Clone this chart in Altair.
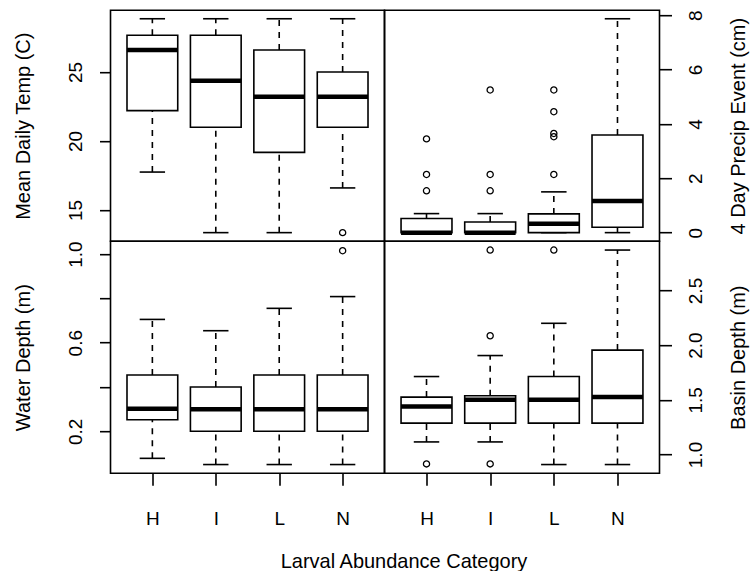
import altair as alt
import pandas as pd

categories = ["H", "I", "L", "N"]

# Mean Daily Temp (C)
temp_low = [17.75, 13.36, 13.36, 16.6]
temp_q1 = [22.2, 21.0, 19.18, 21.0]
temp_med = [26.6, 24.37, 23.2, 23.2]
temp_q3 = [27.66, 27.66, 26.6, 25.0]
temp_high = [28.86, 28.86, 28.86, 28.86]
temp_out_cat = ["N"]
temp_out_val = [13.36]

# 4 Day Precip Event (cm)
precip_low = [0.0, 0.0, 0.0, 0.0]
precip_q1 = [0.0, 0.0, 0.0, 0.2]
precip_med = [0.0, 0.0, 0.33, 1.16]
precip_q3 = [0.52, 0.39, 0.69, 3.59]
precip_high = [0.70, 0.70, 1.50, 7.87]
precip_out_cat = ["H", "H", "H", "I", "I", "I", "L", "L", "L", "L", "L"]
precip_out_val = [1.54, 2.14, 3.45, 1.54, 2.14, 5.25, 2.14, 3.53, 3.65, 4.45, 5.25]

# Water Depth (m)
water_low = [0.078, 0.05, 0.05, 0.05]
water_q1 = [0.252, 0.2, 0.2, 0.2]
water_med = [0.302, 0.30, 0.30, 0.30]
water_q3 = [0.454, 0.40, 0.454, 0.454]
water_high = [0.705, 0.654, 0.755, 0.808]
water_out_cat = ["N"]
water_out_val = [1.015]

# Basin Depth (m)
basin_low = [1.115, 1.115, 0.908, 0.908]
basin_q1 = [1.287, 1.287, 1.287, 1.287]
basin_med = [1.439, 1.50, 1.50, 1.527]
basin_q3 = [1.525, 1.537, 1.713, 1.955]
basin_high = [1.713, 1.905, 2.20, 2.87]
basin_out_cat = ["H", "I", "I", "I", "L"]
basin_out_val = [0.914, 0.914, 2.086, 2.87, 2.87]

FONT = "Liberation Sans"
LW = 1.6
LABEL_SIZE = 19
TITLE_SIZE = 20


def make_panel(low, q1, med, q3, high, out_cat, out_val, domain, yticks, fmt,
               ytitle, side, show_x, width, height, xtitle=None, hidden=()):
    box_df = pd.DataFrame({
        "cat": categories,
        "pos": list(range(1, len(categories) + 1)),
        "low": low, "q1": q1, "med": med, "q3": q3, "high": high,
    })
    out_df = pd.DataFrame({
        "cat": out_cat,
        "pos": [categories.index(c) + 1 for c in out_cat],
        "val": out_val,
    })

    cond = " || ".join(f"abs(datum.value - {h}) < 1e-9" for h in hidden)
    if cond:
        lab_expr = f"({cond}) ? '' : format(datum.value, '{fmt}')"
    else:
        lab_expr = f"format(datum.value, '{fmt}')"

    common_y = dict(
        values=yticks, labelExpr=lab_expr, domain=False, grid=False,
        tickColor="black", tickWidth=LW, labelAngle=270, labelAlign="center",
        labelBaseline="alphabetic", labelFont=FONT, labelFontSize=LABEL_SIZE,
        labelColor="black", labelOverlap=False, labelFlush=False,
        title=ytitle, titleFont=FONT, titleFontSize=TITLE_SIZE,
        titleFontWeight="normal", titleColor="black", titleAngle=270,
        titleAlign="center", titleBaseline="alphabetic", titleY=height / 2,
    )
    if side == "left":
        yaxis = alt.Axis(orient="left", tickSize=11, labelPadding=18,
                         titleX=-81.5, **common_y)
    else:
        yaxis = alt.Axis(orient="right", tickSize=12, labelPadding=30,
                         titleX=85, **common_y)

    if show_x:
        xkw = dict(
            values=list(range(1, len(categories) + 1)),
            labelExpr=f"{categories}[datum.value - 1]",
            domain=False, grid=False, tickColor="black", tickWidth=LW,
            tickSize=12, labelPadding=39, labelBaseline="alphabetic",
            labelAlign="center", labelFont=FONT, labelFontSize=LABEL_SIZE,
            labelColor="black", labelOverlap=False, labelFlush=False,
        )
        if xtitle:
            xaxis = alt.Axis(title=xtitle, titleFont=FONT, titleFontSize=TITLE_SIZE,
                             titleFontWeight="normal", titleColor="black",
                             titleAlign="center", titleBaseline="alphabetic",
                             titleX=293, titleY=94.5, **xkw)
        else:
            xaxis = alt.Axis(title="", **xkw)
    else:
        xaxis = None

    xs = alt.Scale(domain=[0.34, 4.66], nice=False, zero=False)
    ys = alt.Scale(domain=domain, nice=False, zero=False)

    def X(f):
        return alt.X(f, type="quantitative", scale=xs, axis=xaxis)

    def Y(f):
        return alt.Y(f, type="quantitative", scale=ys, axis=yaxis)

    base = alt.Chart(box_df).transform_calculate(
        b1="datum.pos - 0.4", b2="datum.pos + 0.4",
        s1="datum.pos - 0.2", s2="datum.pos + 0.2",
    )

    whisk_up = base.mark_rule(color="black", strokeWidth=LW, strokeDash=[6, 6]).encode(
        x=X("pos"), y=Y("q3"), y2="high")
    whisk_lo = base.mark_rule(color="black", strokeWidth=LW, strokeDash=[6, 6]).encode(
        x=X("pos"), y=Y("low"), y2="q1")
    staple_up = base.mark_rule(color="black", strokeWidth=LW).encode(
        x=X("s1"), x2="s2", y=Y("high"))
    staple_lo = base.mark_rule(color="black", strokeWidth=LW).encode(
        x=X("s1"), x2="s2", y=Y("low"))
    box = base.mark_rect(fill="white", stroke="black", strokeWidth=LW).encode(
        x=X("b1"), x2="b2", y=Y("q1"), y2="q3")
    median = base.mark_rule(color="black", strokeWidth=4.5).encode(
        x=X("b1"), x2="b2", y=Y("med"))
    outl = alt.Chart(out_df).mark_point(
        shape="circle", filled=False, size=38, strokeWidth=1.3, color="black", opacity=1
    ).encode(x=X("pos"), y=Y("val"))

    return alt.layer(whisk_up, whisk_lo, staple_up, staple_lo, box, median, outl).properties(
        width=width, height=height)


tl = make_panel(temp_low, temp_q1, temp_med, temp_q3, temp_high, temp_out_cat, temp_out_val,
                [12.74, 29.48], [15, 20, 25], "d", "Mean Daily Temp (C)", "left", False, 274, 231)
tr = make_panel(precip_low, precip_q1, precip_med, precip_q3, precip_high, precip_out_cat,
                precip_out_val, [-0.315, 8.185], [0, 2, 4, 6, 8], "d",
                "4 Day Precip Event (cm)", "right", False, 275, 231)
bl = make_panel(water_low, water_q1, water_med, water_q3, water_high, water_out_cat,
                water_out_val, [0.011, 1.058], [0.2, 0.4, 0.6, 0.8, 1.0], ".1f",
                "Water Depth (m)", "left", True, 274, 232,
                xtitle="Larval Abundance Category", hidden=(0.4, 0.8))
br = make_panel(basin_low, basin_q1, basin_med, basin_q3, basin_high, basin_out_cat,
                basin_out_val, [0.829, 2.951], [1.0, 1.5, 2.0, 2.5], ".1f",
                "Basin Depth (m)", "right", True, 275, 232)

chart = alt.concat(tl, tr, bl, br, columns=2, spacing=0, bounds="flush").properties(
    padding={"left": 11.5, "top": 8.2, "right": 5, "bottom": 5},
    background="white",
).configure_view(stroke="black", strokeWidth=LW).configure_concat(spacing=0)

chart.save("out.html", embed_options={"renderer": "svg", "actions": False})
